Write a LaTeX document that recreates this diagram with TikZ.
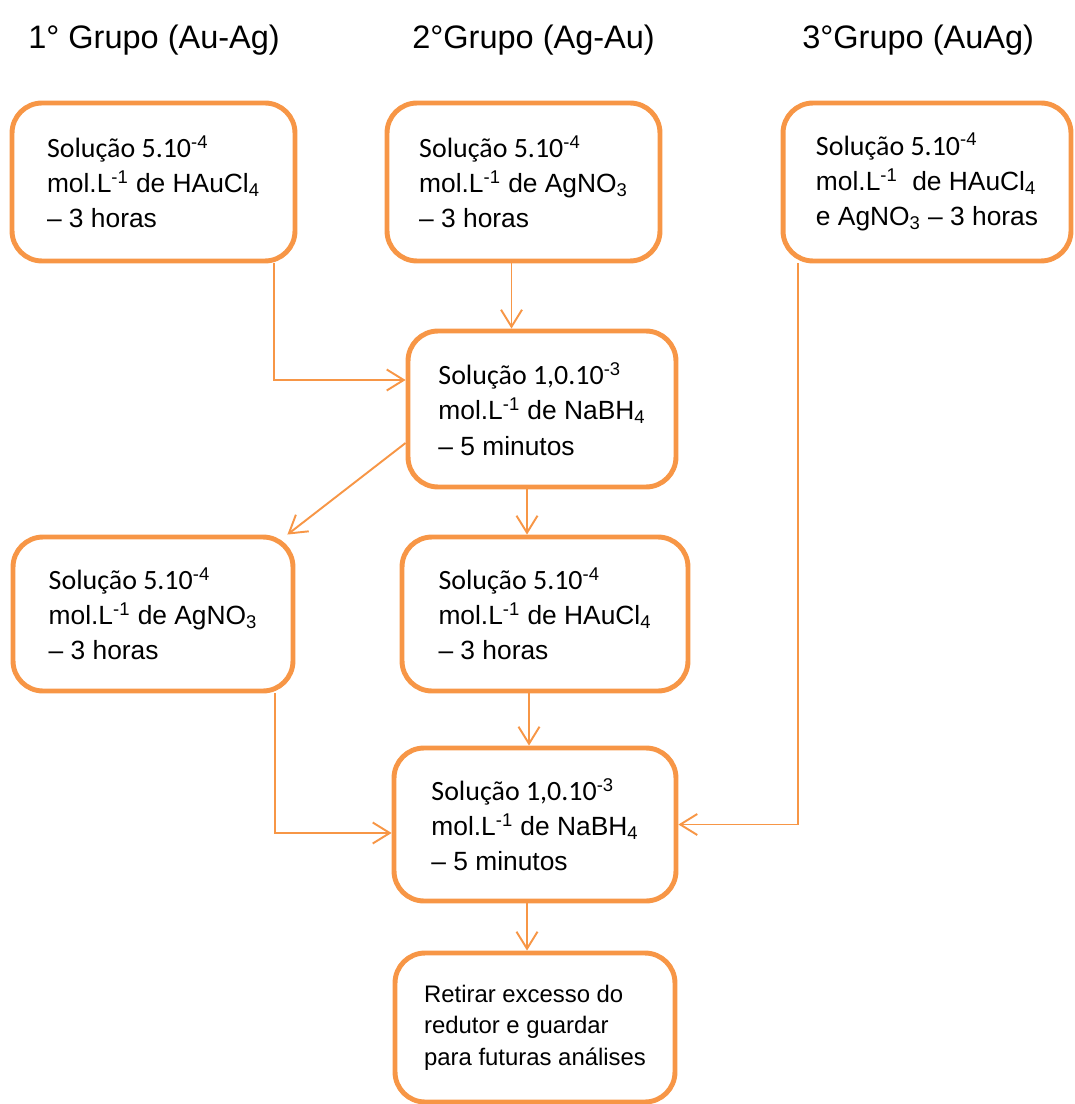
\documentclass[tikz,border=0pt]{standalone}
\usepackage{fontspec}
\setmainfont{Liberation Sans}
\newfontfamily\calibri{Carlito}[Scale=1.06]
\usetikzlibrary{arrows.meta}
\definecolor{laranja}{HTML}{F79646}

\begin{document}
\begin{tikzpicture}[x=0.02cm,y=-0.02cm,
  caixa/.style={draw=laranja,line width=2.8pt,rounded corners=0.6cm,align=left,
    inner sep=0pt,font=\fontsize{15}{20}\selectfont},
  titulo/.style={anchor=base west,inner sep=0pt,font=\fontsize{18.5}{22}\selectfont},
  seta/.style={draw=laranja,line width=1.1pt,-{Straight Barb[length=0.34cm,width=0.42cm]}}]
\useasboundingbox (0,0) rectangle (1074,1104);

\node[titulo] (t1) at (28,49) {1° Grupo (Au-Ag)};
\node[titulo] (t2) at (412,49) {2°Grupo (Ag-Au)};
\node[titulo] (t3) at (802,49) {3°Grupo (AuAg)};

\node[caixa,minimum width=5.66cm,minimum height=3.16cm] (A1) at (153.5,182)
  {{\calibri Solução 5.10}\textsuperscript{-4}\\ mol.L\textsuperscript{-1} de HAuCl\textsubscript{4}\\ – 3 horas};
\node[caixa,minimum width=5.46cm,minimum height=3.16cm] (B1) at (523.5,182)
  {{\calibri Solução 5.10}\textsuperscript{-4}\\ mol.L\textsuperscript{-1} de AgNO\textsubscript{3}\\ – 3 horas};
\node[caixa,minimum width=5.76cm,minimum height=3.16cm] (C1) at (927,182)
  {{\calibri Solução 5.10}\textsuperscript{-4}\\ mol.L\textsuperscript{-1}\ \ de HAuCl\textsubscript{4}\\ e AgNO\textsubscript{3} – 3 horas};
\node[caixa,minimum width=5.36cm,minimum height=3.12cm] (N1) at (542,409)
  {{\calibri Solução 1,0.10}\textsuperscript{-3}\\ mol.L\textsuperscript{-1} de NaBH\textsubscript{4}\\ – 5 minutos};
\node[caixa,minimum width=5.6cm,minimum height=3.08cm] (A2) at (153,614)
  {{\calibri Solução 5.10}\textsuperscript{-4}\\ mol.L\textsuperscript{-1} de AgNO\textsubscript{3}\\ – 3 horas};
\node[caixa,minimum width=5.72cm,minimum height=3.08cm] (B2) at (545,614)
  {{\calibri Solução 5.10}\textsuperscript{-4}\\ mol.L\textsuperscript{-1} de HAuCl\textsubscript{4}\\ – 3 horas};
\node[caixa,minimum width=5.64cm,minimum height=3.06cm] (N2) at (535,824.5)
  {{\calibri Solução 1,0.10}\textsuperscript{-3}\\ mol.L\textsuperscript{-1} de NaBH\textsubscript{4}\\ – 5 minutos};
\node[caixa,minimum width=5.6cm,minimum height=2.98cm,font=\fontsize{13.6}{18}\selectfont] (R) at (535,1027.5)
  {Retirar excesso do\\ redutor e guardar\\ para futuras análises};

\draw[seta] ([xshift=-0.46cm]A1.south east) |- ([yshift=0.58cm]N1.west);
\draw[seta] ([xshift=-0.24cm]B1.south) -- ([xshift=-0.24cm]B1.south |- N1.north);
\draw[seta] ([yshift=-0.68cm]N1.west) -- ([xshift=-0.16cm]A2.north east);
\draw[seta] ([xshift=-0.3cm]N1.south) -- ([xshift=-0.3cm]N1.south |- B2.north);
\draw[seta] ([xshift=-0.32cm]B2.south) -- ([xshift=-0.32cm]B2.south |- N2.north);
\draw[seta] ([xshift=-0.4cm]A2.south east) |- ([yshift=-0.17cm]N2.west);
\draw[seta] ([xshift=0.34cm]C1.south west) |- (N2.east);
\draw[seta] ([xshift=-0.16cm]N2.south) -- ([xshift=-0.16cm]N2.south |- R.north);
\end{tikzpicture}
\end{document}
